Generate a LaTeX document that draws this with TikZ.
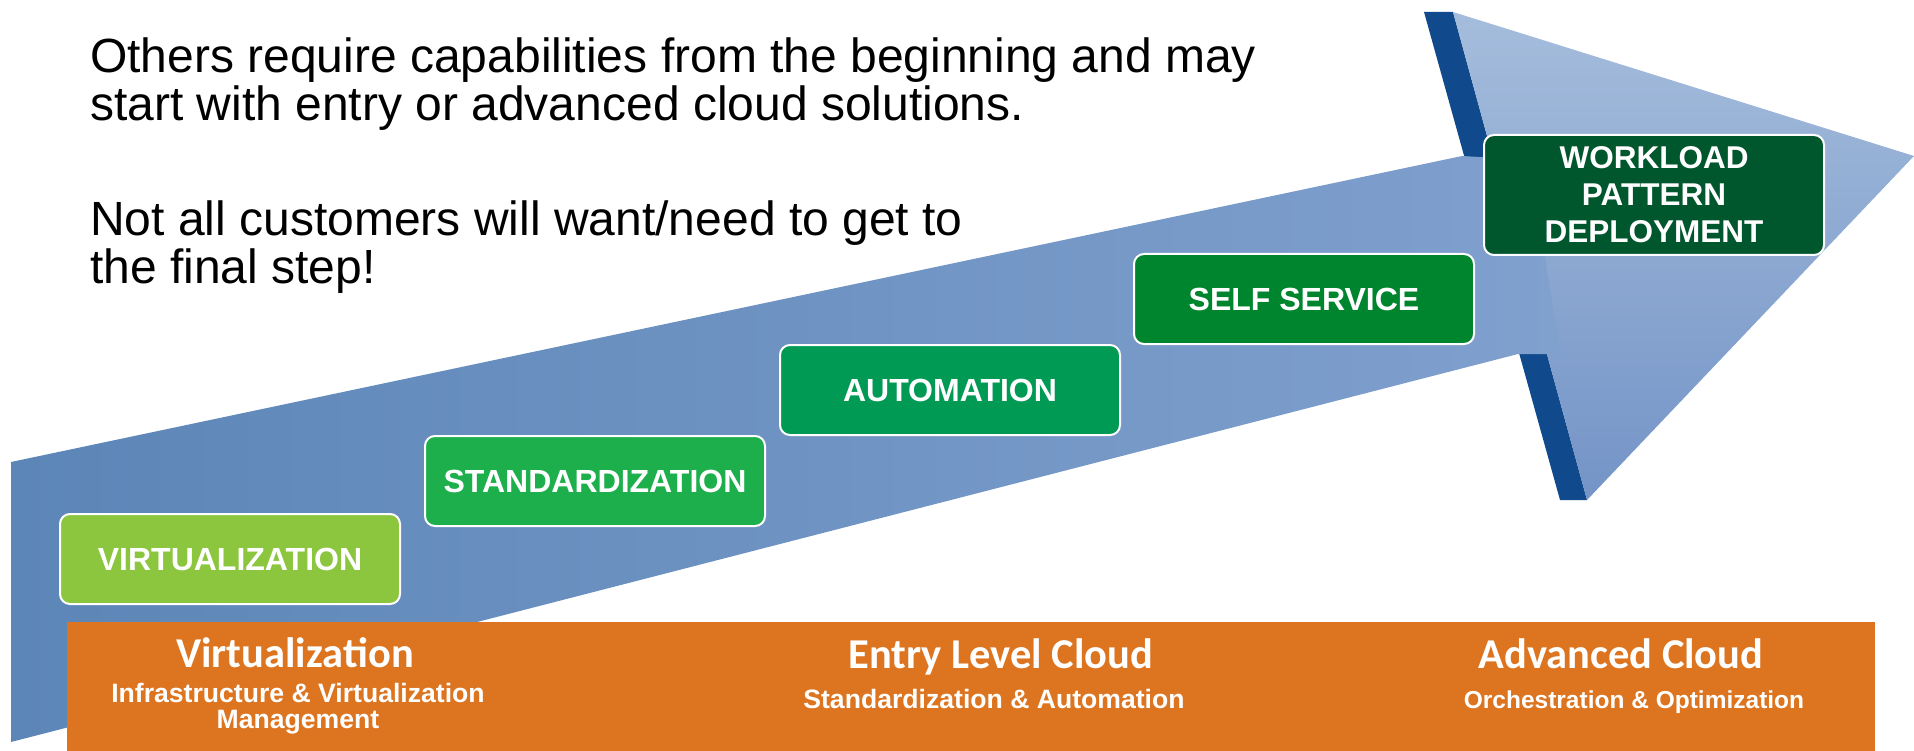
\documentclass[tikz,border=0pt]{standalone}
\usepackage{fontspec}
\setmainfont{Liberation Sans}
\newfontfamily\calibri{Carlito}
\usetikzlibrary{positioning}

\definecolor{shaftleft}{RGB}{92,134,183}
\definecolor{shaftright}{RGB}{128,160,206}
\definecolor{headtop}{RGB}{165,189,220}
\definecolor{headbottom}{RGB}{116,148,199}
\definecolor{headside}{RGB}{16,74,140}
\definecolor{barorange}{RGB}{221,116,31}
\definecolor{virtgreen}{RGB}{140,198,63}
\definecolor{standgreen}{RGB}{28,175,75}
\definecolor{autogreen}{RGB}{0,154,85}
\definecolor{selfgreen}{RGB}{0,133,47}
\definecolor{workgreen}{RGB}{0,86,45}

\def\boxw{340pt}
\def\boxh{90pt}

\tikzset{
  stepbox/.style={anchor=north west, draw=white, line width=2pt, rounded corners=10pt,
    minimum width=\boxw, minimum height=\boxh, inner sep=0pt, text=white,
    font=\bfseries\fontsize{32}{37}\selectfont, align=center},
  bartitle/.style={anchor=base, inner sep=0pt, text=white, font=\calibri\bfseries\fontsize{42.5}{44}\selectfont},
  barsub/.style={anchor=base, inner sep=0pt, text=white, align=center, font=\bfseries\fontsize{26.6}{26}\selectfont},
  note/.style={anchor=base west, inner sep=0pt, align=left, font=\fontsize{48}{48.5}\selectfont}
}

\begin{document}
\begin{tikzpicture}[x=1pt, y=-1pt]
  \useasboundingbox (0,0) rectangle (1914,751);
  % the big arrow: side of the head, head, then shaft
  \fill[headside] (1424,12) -- (1453,12) -- (1587,500) -- (1560,500) -- cycle;
  \shade[top color=headtop, bottom color=headbottom] (1453,12) -- (1914,156) -- (1587,500) -- cycle;
  \shade[left color=shaftleft, right color=shaftright]
    (11,462) -- (1462,156) -- (1530,160) -- (1560,354) -- (1518,354) -- (11,742) -- cycle;
  % orange band at the bottom
  \fill[barorange] (67,622) rectangle (1875,751);
  % the steps
  \foreach \n/\x/\y/\c/\t in {virt/59/513/virtgreen/VIRTUALIZATION,
      stand/424/435/standgreen/STANDARDIZATION,
      autom/779/344/autogreen/AUTOMATION,
      self/1133/253/selfgreen/SELF SERVICE}
    \node[stepbox, fill=\c] (\n) at (\x,\y) {\t};
  \node[stepbox, fill=workgreen, minimum height=120pt, font=\bfseries\fontsize{31.5}{37}\selectfont] (work) at (1483,134) {WORKLOAD\\PATTERN\\DEPLOYMENT};
  % texts (base of a two line node is its last line)
  \node[note] (others) at (90,121) {Others require capabilities from the beginning and may\\start with entry or advanced cloud solutions.};
  \node[note] (notall) at (90,284) {Not all customers will want/need to get to\\the final step!};
  \node[bartitle] (virtlevel) at (295,667) {Virtualization};
  \node[barsub] (virtsub) at (298,728) {Infrastructure \& Virtualization\\Management};
  \node[bartitle] (entrylevel) at (1001,668) {Entry Level Cloud};
  \node[barsub] (entrysub) at (994,708) {Standardization \& Automation};
  \node[bartitle] (advlevel) at (1621,668) {Advanced Cloud};
  \node[barsub, font=\bfseries\fontsize{24.5}{26}\selectfont] (advsub) at (1634,708) {Orchestration \& Optimization};
\end{tikzpicture}
\end{document}
